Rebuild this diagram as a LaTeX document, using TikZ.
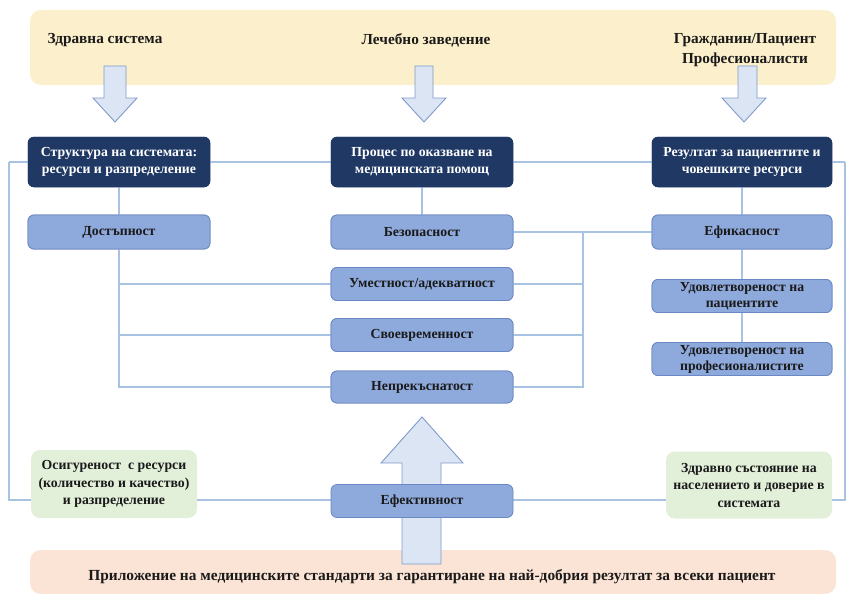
\documentclass[tikz,border=0pt]{standalone}
\usepackage{fontspec}
\setmainfont{Liberation Serif}
\definecolor{bandY}{HTML}{FCEFCB}
\definecolor{bandP}{HTML}{FBE4D5}
\definecolor{navy}{HTML}{1F3864}
\definecolor{lblue}{HTML}{8EA9DB}
\definecolor{lblueB}{HTML}{6A88C4}
\definecolor{lgreen}{HTML}{E2EFD9}
\definecolor{arrF}{HTML}{DCE5F4}
\definecolor{arrB}{HTML}{7F9BC9}
\definecolor{conn}{HTML}{A8C3E2}
\definecolor{txt}{HTML}{1A1A1A}
\tikzset{
  navybox/.style={draw=navy, fill=navy, rounded corners=6pt, minimum height=50pt, text=white, align=center, font=\bfseries\fontsize{13.8}{17}\selectfont, inner sep=2pt},
  bluebox/.style={draw=lblueB, line width=0.8pt, fill=lblue, rounded corners=6pt, minimum height=33pt, text=txt, align=center, font=\bfseries\fontsize{13.8}{16}\selectfont, inner sep=2pt},
  greenbox/.style={fill=lgreen, rounded corners=9pt, text=txt, align=center, font=\bfseries\fontsize{13.8}{17.5}\selectfont, inner sep=2pt},
  band/.style={rounded corners=11pt},
  toplabel/.style={text=txt, font=\bfseries\fontsize{15.3}{20}\selectfont, align=center},
  conline/.style={draw=conn, line width=1.1pt},
  blockarrow/.style={draw=arrB, fill=arrF, line width=0.9pt, line join=miter}
}
\begin{document}
\begin{tikzpicture}[x=1pt,y=-1pt]
\useasboundingbox (0,0) rectangle (849,594);
% bands
\fill[bandY, band] (30,10) rectangle (836,85);
\fill[bandP, band] (30,550) rectangle (836,594);
\node[toplabel] (lz) at (105,40) {Здравна система};
\node[toplabel] (ll) at (426,40) {Лечебно заведение};
\node[toplabel] (lg) at (745,50) {Гражданин/Пациент\\Професионалисти};
\node[text=txt, font=\bfseries\fontsize{15.4}{18}\selectfont] (lp) at (432,577) {Приложение на медицинските стандарти за гарантиране на най-добрия резултат за всеки пациент};
% coordinates for frame
\coordinate (fl) at (9,162);
\coordinate (fr) at (845,162);
\coordinate (bl) at (9,500);
\coordinate (br) at (845,500);
% nodes
\path
  node[navybox, minimum width=182pt] (str) at (119,162) {Структура на системата:\\ресурси и разпределение}
  node[navybox, minimum width=182pt] (proc) at (422,162) {Процес по оказване на\\медицинската помощ}
  node[navybox, minimum width=180pt] (rez) at (742,162) {Резултат за пациентите и\\човешките ресурси};
\path
  node[bluebox, minimum width=182pt, minimum height=34pt] (dost) at (119,232) {Достъпност}
  node[bluebox, minimum width=182pt, minimum height=34pt] (bez) at (422,232) {Безопасност}
  node[bluebox, minimum width=182pt] (um) at (422,284) {Уместност/адекватност}
  node[bluebox, minimum width=182pt] (svo) at (422,335) {Своевременност}
  node[bluebox, minimum width=182pt, minimum height=32pt] (nep) at (422,387) {Непрекъснатост}
  node[bluebox, minimum width=180pt, minimum height=34pt] (efk) at (742,232) {Ефикасност}
  node[bluebox, minimum width=180pt] (udp) at (742,296) {Удовлетвореност на\\пациентите}
  node[bluebox, minimum width=180pt] (udpr) at (742,359) {Удовлетвореност на\\професионалистите};
% connectors
\draw[conline] (fl) -- (str.west);
\draw[conline] (str.east) -- (proc.west);
\draw[conline] (proc.east) -- (rez.west);
\draw[conline] (rez.east) -- (fr);
\draw[conline] (fl) -- (bl) -- (br) -- (fr);
\draw[conline] (str.south) -- (dost.north);
\draw[conline] (dost.south) -- (dost.south |- nep.west) -- (nep.west);
\draw[conline] (dost.south |- um.west) -- (um.west);
\draw[conline] (dost.south |- svo.west) -- (svo.west);
\draw[conline] (proc.south) -- (bez.north);
\draw[conline] (bez.east) -- (efk.west);
\coordinate (jr) at (583,232);
\draw[conline] (jr) -- (jr |- nep.east) -- (nep.east);
\draw[conline] (jr |- um.east) -- (um.east);
\draw[conline] (jr |- svo.east) -- (svo.east);
\draw[conline] (rez.south) -- (efk.north);
\draw[conline] (efk.south) -- (udp.north);
\draw[conline] (udp.south) -- (udpr.north);
% redraw boxes on top of lines
\path
  node[navybox, minimum width=182pt] at (str) {Структура на системата:\\ресурси и разпределение}
  node[navybox, minimum width=182pt] at (proc) {Процес по оказване на\\медицинската помощ}
  node[navybox, minimum width=180pt] at (rez) {Резултат за пациентите и\\човешките ресурси};
\path
  node[bluebox, minimum width=182pt, minimum height=34pt] at (dost) {Достъпност}
  node[bluebox, minimum width=182pt, minimum height=34pt] at (bez) {Безопасност}
  node[bluebox, minimum width=182pt] at (um) {Уместност/адекватност}
  node[bluebox, minimum width=182pt] at (svo) {Своевременност}
  node[bluebox, minimum width=182pt, minimum height=32pt] at (nep) {Непрекъснатост}
  node[bluebox, minimum width=180pt, minimum height=34pt] at (efk) {Ефикасност}
  node[bluebox, minimum width=180pt] at (udp) {Удовлетвореност на\\пациентите}
  node[bluebox, minimum width=180pt] at (udpr) {Удовлетвореност на\\професионалистите};
% green boxes
\node[greenbox, minimum width=166pt, minimum height=68pt] (osig) at (114,484) {Осигуреност\ \ с ресурси\\(количество и качество)\\и разпределение};
\node[greenbox, minimum width=166pt, minimum height=67pt] (zdr) at (749,485) {Здравно състояние на\\населението и доверие в\\системата};
% down block arrows
\draw[blockarrow] (104,66) -- (126,66) -- (126,98) -- (137,98) -- (115,122) -- (93,98) -- (104,98) -- cycle;
\draw[blockarrow] (415,66) -- (433,66) -- (433,98) -- (446,98) -- (424,122) -- (402,98) -- (415,98) -- cycle;
\draw[blockarrow] (738,66) -- (757,66) -- (757,98) -- (766,98) -- (744,122) -- (722,98) -- (738,98) -- cycle;
% big up arrow
\draw[blockarrow] (402,564) -- (402,463) -- (381,463) -- (422,417) -- (463,463) -- (441,463) -- (441,564) -- cycle;
\node[bluebox, minimum width=182pt] (efe) at (422,501) {Ефективност};
\end{tikzpicture}
\end{document}
